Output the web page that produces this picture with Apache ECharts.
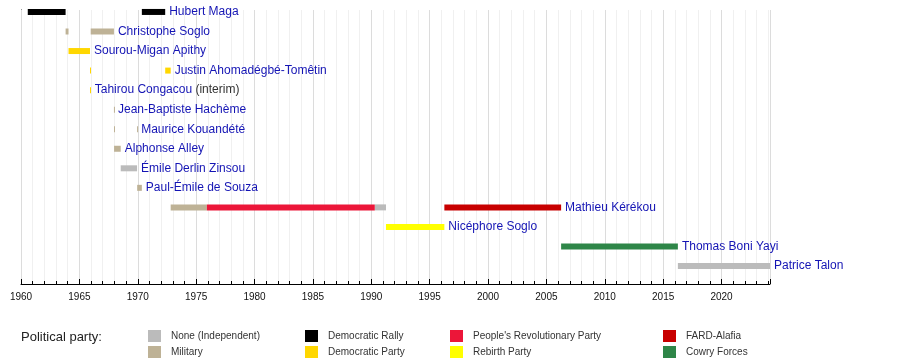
<!DOCTYPE html>
<html>
<head>
<meta charset="utf-8">
<script src="https://cdn.jsdelivr.net/npm/echarts@6/dist/echarts.min.js"></script>
<style>
html,body{margin:0;padding:0;background:#fff;}
#chart{width:900px;height:363px;}
</style>
</head>
<body>
<div id="chart"></div>
<script>
// ---- Data ----
const presidents = [
  'Hubert Maga', 'Christophe Soglo', 'Sourou-Migan Apithy', 'Justin Ahomadégbé-Tomêtin',
  'Tahirou Congacou', 'Jean-Baptiste Hachème', 'Maurice Kouandété', 'Alphonse Alley',
  'Émile Derlin Zinsou', 'Paul-Émile de Souza', 'Mathieu Kérékou', 'Nicéphore Soglo',
  'Thomas Boni Yayi', 'Patrice Talon'
];
const presidentNotes = ['', '', '', '', '(interim)', '', '', '', '', '', '', '', '', ''];

const parties = [
  'None (Independent)', 'Military', 'Democratic Rally', 'Democratic Party',
  "People's Revolutionary Party", 'Rebirth Party', 'FARD-Alafia', 'Cowry Forces'
];
const partyColors = ['#bbbbbb', '#beb296', '#000000', '#ffd700', '#ec1639', '#ffff00', '#c80000', '#2e8648'];

// terms: president row, start year, end year, party index
const termRow   = [0, 0, 1, 1, 2, 3, 3, 4, 5, 6, 6, 7, 8, 9, 10, 10, 10, 10, 11, 12, 13];
const termStart = [1960.58, 1970.35, 1963.82, 1965.97, 1964.07, 1965.91, 1972.35, 1965.91, 1967.96, 1967.965, 1969.94, 1967.97, 1968.54, 1969.95, 1972.82, 1975.92, 1990.3, 1996.26, 1991.26, 2006.26, 2016.26];
const termEnd   = [1963.82, 1972.35, 1964.07, 1967.96, 1965.91, 1965.915, 1972.82, 1965.97, 1967.965, 1967.97, 1969.95, 1968.54, 1969.94, 1970.35, 1975.92, 1990.3, 1991.26, 2006.26, 1996.26, 2016.26, 2024.15];
const termParty = [2, 2, 1, 1, 3, 3, 3, 3, 1, 1, 1, 1, 0, 1, 1, 4, 0, 6, 5, 7, 0];

const axisMin = 1960, axisMax = 2024.15;

// ---- Chart ----
const FONT = "'Liberation Sans', Arial, Helvetica, sans-serif";
const chart = echarts.init(document.getElementById('chart'), null, {renderer: 'canvas'});

function barItem(params, api) {
  const s = api.coord([api.value(1), api.value(0)]);
  const e = api.coord([api.value(2), api.value(0)]);
  const h = 6;
  return {
    type: 'rect',
    shape: {x: s[0], y: s[1] - h / 2, width: Math.max(1, e[0] - s[0]), height: h},
    style: {fill: api.visual('color')}
  };
}

const series = parties.map((p, pi) => {
  const data = [];
  termRow.forEach((r, i) => { if (termParty[i] === pi) data.push([r, termStart[i], termEnd[i]]); });
  return {
    name: p, type: 'custom', renderItem: barItem, data,
    itemStyle: {color: partyColors[pi]},
    encode: {x: [1, 2], y: 0}, xAxisIndex: 0, yAxisIndex: 0, z: 3
  };
});

const labelData = presidents.map((n, r) => {
  let end = -Infinity;
  termRow.forEach((tr, i) => { if (tr === r) end = Math.max(end, termEnd[i]); });
  return [r, end, r];
});

series.push({
  name: 'labels', type: 'custom', xAxisIndex: 0, yAxisIndex: 0, z: 4,
  encode: {x: 1, y: 0},
  data: labelData,
  renderItem: function (params, api) {
    const r = api.value(2);
    const p = api.coord([api.value(1), api.value(0)]);
    const note = presidentNotes[r];
    const txt = '{n|' + presidents[r] + '}' + (note ? ' {i|' + note + '}' : '');
    return {
      type: 'text',
      x: p[0] + 4, y: p[1],
      style: {
        text: txt,
        align: 'left', verticalAlign: 'middle',
        font: '12px ' + FONT, fill: '#1414b4',
        rich: {
          n: {fontSize: 12, fontFamily: FONT, fill: '#1414b4', color: '#1414b4'},
          i: {fontSize: 12, fontFamily: FONT, fill: '#333333', color: '#333333'}
        }
      }
    };
  }
});

function legendCol(left, items) {
  return {
    left: left, top: 330, orient: 'vertical', padding: 0, height: 40,
    itemWidth: 13, itemHeight: 12, itemGap: 4, icon: 'rect',
    selectedMode: false,
    data: items,
    textStyle: {fontSize: 10, fontFamily: FONT, color: '#333', padding: [0, 0, 0, 5]}
  };
}

const gridBox = {left: 21, right: 130, top: 10, bottom: 79};

const option = {
  animation: false,
  backgroundColor: '#ffffff',
  grid: [Object.assign({}, gridBox), Object.assign({}, gridBox)],
  xAxis: [
    {
      gridIndex: 0, type: 'value', min: axisMin, max: axisMax, interval: 1, position: 'bottom', z: 1,
      axisLine: {show: true, onZero: false, lineStyle: {color: '#000', width: 1}},
      axisTick: {show: true, inside: true, length: 3, lineStyle: {color: '#000'}},
      axisLabel: {show: false},
      splitLine: {show: true, lineStyle: {color: '#f0f0f0', width: 1}}
    },
    {
      gridIndex: 1, type: 'value', min: axisMin, max: axisMax, interval: 5, position: 'bottom', z: 1,
      axisLine: {show: false, onZero: false},
      axisTick: {show: true, inside: true, length: 5, lineStyle: {color: '#000'}},
      axisLabel: {
        show: true, fontSize: 10, fontFamily: FONT, color: '#111', margin: 8,
        formatter: v => (Math.abs(v % 5) < 1e-6 ? String(Math.round(v)) : '')
      },
      splitLine: {show: true, lineStyle: {color: '#dcdcdc', width: 1}}
    }
  ],
  yAxis: [
    {
      gridIndex: 0, type: 'value', inverse: true, min: -0.1, max: 13.92,
      axisLine: {show: true, onZero: false, lineStyle: {color: '#000', width: 1}},
      axisTick: {show: false}, axisLabel: {show: false}, splitLine: {show: false}
    },
    {
      gridIndex: 1, type: 'value', min: 0, max: 1, show: false,
      axisLine: {show: false}, axisTick: {show: false}, axisLabel: {show: false}, splitLine: {show: false}
    }
  ],
  legend: [
    legendCol(148, [parties[0], parties[1]]),
    legendCol(305, [parties[2], parties[3]]),
    legendCol(450, [parties[4], parties[5]]),
    legendCol(663, [parties[6], parties[7]])
  ],
  graphic: [{
    type: 'text', left: 21, top: 331,
    style: {text: 'Political party:', font: '13px ' + FONT, fill: '#222'}
  }],
  series
};
chart.setOption(option);
</script>
</body>
</html>
